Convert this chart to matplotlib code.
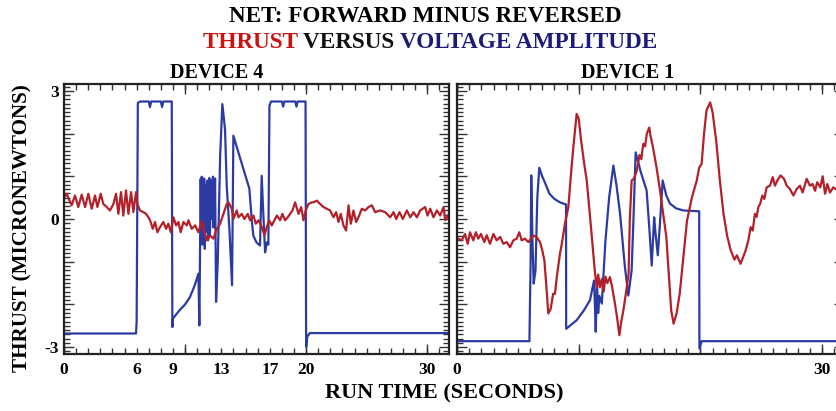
import matplotlib
matplotlib.use("Agg")
from matplotlib import pyplot as plt
from matplotlib.ticker import MultipleLocator

plt.rcParams['font.family'] = ['Liberation Serif', 'DejaVu Serif']
plt.rcParams['font.weight'] = 'bold'

# Device 4 : thrust (red)
t4_thrust = [0.03, 0.22, 0.63, 0.91, 1.18, 1.46, 1.74, 2.01, 2.29, 2.56, 2.76, 3.03, 3.25, 3.53,
             3.80, 4.08, 4.30, 4.49, 4.71, 4.90, 5.12, 5.32, 5.54, 5.73, 5.95, 6.06, 6.28, 6.56,
             6.78, 6.97, 7.11, 7.33, 7.52, 7.71, 7.93, 8.21, 8.43, 8.62, 8.82, 9.04, 9.26, 9.45,
             9.64, 9.86, 10.14, 10.28, 10.55, 10.83, 11.1, 11.38, 11.6, 11.79, 12.07, 12.34,
             12.62, 12.89, 13.17, 13.44, 13.58, 13.86, 13.99, 14.27, 14.41, 14.68, 14.9, 15.18,
             15.37, 15.65, 15.84, 16.06, 16.34, 16.56, 16.75, 16.94, 17.16, 17.38, 17.58, 17.85,
             18.04, 18.26, 18.48, 18.68, 18.87, 19.09, 19.37, 19.59, 19.78, 19.97, 20.19, 20.47,
             20.61, 20.88, 21.16, 21.43, 21.7, 21.98, 22.26, 22.48, 22.67, 22.86, 23.08, 23.3,
             23.5, 23.69, 23.91, 24.13, 24.32, 24.6, 24.88, 25.15, 25.43, 25.7, 26.12, 26.53,
             26.94, 27.22, 27.44, 27.71, 27.99, 28.32, 28.6, 28.87, 29.15, 29.42, 29.83, 30.03,
             30.25, 30.52, 30.8, 31.07, 31.35, 31.49, 31.8]
v4_thrust = [0.51, 0.59, 0.32, 0.55, 0.28, 0.57, 0.28, 0.59, 0.24, 0.55, 0.28, 0.59, 0.35, 0.28,
             0.20, 0.35, 0.59, 0.12, 0.63, 0.08, 0.67, 0.12, 0.63, 0.16, 0.63, 0.35, 0.20, 0.16,
             0.12, 0.04, -0.03, -0.23, -0.07, -0.31, -0.19, -0.07, -0.23, -0.11, -0.31, 0.04, -0.15, -0.07,
             -0.31, -0.07, -0.15, -0.03, -0.23, -0.15, -0.31, -0.05, -0.30, -0.50, -0.39, -0.46,
             -0.23, -0.11, 0.12, 0.35, 0.39, 0.24, 0.00, 0.20, 0.04, 0.12, 0.00, 0.12,
             -0.03, 0.08, -0.11, -0.03, -0.19, -0.38, -0.19, -0.03, -0.15, -0.03, 0.08, -0.03,
             0.12, -0.03, 0.04, 0.12, 0.20, 0.39, 0.12, 0.28, -0.03, 0.20, 0.35, 0.39,
             0.39, 0.43, 0.35, 0.28, 0.24, 0.20, 0.04, 0.16, -0.07, 0.12, -0.15, -0.27,
             0.32, -0.11, 0.20, -0.07, 0.04, 0.24, 0.20, 0.28, 0.32, 0.16, 0.20, 0.16,
             0.04, 0.16, 0.00, 0.16, 0.00, 0.20, 0.04, 0.16, 0.04, 0.20, 0.28, 0.08,
             0.24, 0.04, 0.20, 0.08, 0.28, -0.03, 0.12]

# Device 4 : voltage amplitude (blue)
t4_volt = [0, 5.95, 6.0, 6.1, 6.3, 7.0, 7.1, 7.2, 8.0, 8.1, 8.2, 8.9, 8.95, 9.0, 9.5, 10.0,
           10.4, 10.8, 11.1, 11.18, 11.29, 11.33, 11.38, 11.42, 11.48, 11.52, 11.58, 11.63,
           11.7, 11.75, 11.85, 11.9, 12.0, 12.05, 12.15, 12.2, 12.3, 12.35, 12.48, 12.56,
           12.7, 12.9, 13.08, 13.3, 13.44, 13.66, 13.88, 13.99, 15.31, 15.5, 15.64, 15.9,
           16.19, 16.33, 16.45, 16.61, 16.75, 16.88, 16.97, 17.1, 18.0, 18.1, 18.2, 19.1,
           19.2, 19.3, 19.95, 20.0, 20.1, 20.3, 31.8]
v4_volt = [-2.68, -2.68, -2.4, 2.72, 2.75, 2.75, 2.62, 2.75, 2.75, 2.62, 2.75, 2.75, -2.53, -2.33,
           -2.15, -2.0, -1.83, -1.55, -1.28, -2.49, 0.94, -0.2, 0.99, -0.6, 0.85, -0.1, 0.95, -0.7,
           0.8, -0.3, 0.9, -0.5, 0.96, -0.4, 0.9, 0.0, 0.99, -0.2, 0.95, -1.94,
           -1.0, 1.5, 2.69, 2.1, 0.78, -0.23, -1.55, 1.95, 0.71, 0.0, -0.39, -0.55,
           -0.62, 1.01, 0.2, -0.78, -0.55, -0.6, 2.65, 2.75, 2.75, 2.63, 2.75, 2.75,
           2.63, 2.75, 2.75, -3.0, -2.75, -2.67, -2.67]

# Device 1 : thrust (red)
t1_thrust = [0.0, 0.38, 0.66, 0.88, 1.07, 1.34, 1.55, 1.75, 1.97, 2.25, 2.44, 2.71, 2.99, 3.26,
             3.54, 3.81, 4.08, 4.36, 4.63, 4.9, 5.12, 5.31, 5.58, 5.86, 6.27, 6.54, 6.82, 7.01,
             7.18, 7.35, 7.5, 7.7, 7.9, 8.05, 8.2, 8.46, 8.6, 8.87, 9.15, 9.35, 9.56, 9.83,
             10.0, 10.2, 10.45, 10.66, 10.95, 11.2, 11.35, 11.5, 11.6, 11.75, 11.9, 12.05, 12.2,
             12.35, 12.57, 12.75, 12.98, 13.15, 13.34, 13.5, 13.67, 13.9, 14.1, 14.2, 14.35,
             14.55, 14.77, 15.0, 15.15, 15.3, 15.45, 15.6, 15.8, 15.9, 16.1, 16.4, 16.68, 16.95,
             17.2, 17.4, 17.6, 17.8, 18.05, 18.3, 18.6, 18.9, 19.3, 19.7, 19.9, 20.1, 20.3, 20.5,
             20.8, 21.0, 21.3, 21.6, 21.9, 22.2, 22.5, 22.8, 23.0, 23.3, 23.5, 23.7, 23.94, 24.13,
             24.3, 24.48, 24.62, 24.76, 24.9, 25.09, 25.25, 25.44, 25.72, 25.94, 26.13, 26.32,
             26.59, 26.87, 27.09, 27.36, 27.64, 27.91, 28.18, 28.4, 28.73, 29.0, 29.22, 29.42,
             29.6, 29.85, 30.05, 30.24, 30.43, 30.65, 30.92, 31.14, 31.8]
v1_thrust = [-0.45, -0.50, -0.35, -0.58, -0.31, -0.50, -0.31, -0.46, -0.35, -0.54, -0.38, -0.58,
             -0.35, -0.50, -0.42, -0.58, -0.54, -0.66, -0.50, -0.46, -0.31, -0.50, -0.46, -0.54,
             -0.39, -0.42, -0.54, -0.74, -0.97, -1.6, -2.21, -2.1, -1.75, -1.75, -1.36, -0.81,
             -0.6, -0.11, 0.28, 1.0, 1.68, 2.46, 2.35, 1.83, 1.3, 0.9, 0.0, -0.81, -1.3, -1.6,
             -1.3, -1.6, -1.4, -1.7, -1.35, -1.5, -1.36, -1.6, -1.98, -2.3, -2.72, -2.4, -2.14,
             -1.7, -1.28, 0.0, 0.9, 0.95, 1.13, 1.5, 1.4, 1.76, 1.7, 2.0, 2.14, 1.95, 1.68, 1.2,
             0.67, 0.1, -0.42, -1.3, -2.14, -2.45, -2.2, -1.75, -0.9, -0.04, 0.5, 0.9, 1.2, 1.29,
             2.0, 2.54, 2.73, 2.5, 1.83, 0.9, 0.12, -0.4, -0.74, -0.95, -0.85, -1.05, -0.9, -0.75,
             -0.50, -0.19, -0.27, 0.12, 0.05, 0.28, 0.35, 0.55, 0.47, 0.74, 0.78, 0.98, 0.78,
             0.90, 1.02, 0.94, 0.78, 0.70, 0.55, 0.70, 0.78, 0.62, 0.94, 0.78, 0.82, 0.66, 0.86,
             0.74, 1.0, 0.59, 0.82, 0.62, 0.74, 0.70, 0.78]

# Device 1 : voltage amplitude (blue)
t1_volt = [0, 5.95, 6.05, 6.1, 6.2, 6.3, 6.45, 6.6, 6.76, 7.0, 7.3, 7.6, 8.0, 8.46, 8.96, 8.97,
           9.4, 9.83, 10.4, 10.93, 11.26, 11.33, 11.4, 11.5, 11.6, 11.7, 11.9, 12.2, 12.5, 12.85,
           13.1, 13.4, 13.8, 14.08, 14.35, 14.5, 14.68, 15.1, 15.58, 15.8, 16.0, 16.2, 16.3,
           16.5, 16.7, 16.9, 17.2, 17.5, 18.0, 18.6, 19.9, 19.92, 20.1, 31.8]
v1_volt = [-2.86, -2.86, -1.0, 1.02, -0.5, -1.51, -1.2, 0.5, 1.2, 1.0, 0.8, 0.59, 0.47, 0.39,
           0.34, -2.57, -2.47, -2.37, -2.15, -1.9, -1.44, -2.0, -2.64, -1.5, -2.2, -1.8, -1.98,
           -0.5, 0.5, 1.25, 0.8, 0.12, -1.13, -1.79, -1.2, 0.0, 1.56, 1.1, 0.67, -0.2, -1.09,
           0.04, -0.3, -0.85, 0.0, 0.9, 0.55, 0.36, 0.25, 0.2, 0.18, -3.03, -2.86, -2.86]

x4_ticks = [0, 6, 9, 13, 17, 20, 30]
x1_ticks = [0, 30]

RED = '#b3202a'
BLUE = '#2c3ba3'
W, H = 836, 411

fig = plt.figure(figsize=(W / 100, H / 100), dpi=100)
ax4 = fig.add_axes([64 / W, 1 - 354 / H, 385 / W, 270 / H])
ax1 = fig.add_axes([457 / W, 1 - 354 / H, 387 / W, 270 / H])


def style(ax, labels, ylabels):
    ax.set_xlim(0, 31.8)
    ax.set_ylim(-3.16, 3.16)
    ax.xaxis.set_major_locator(MultipleLocator(10))
    ax.xaxis.remove_overlapping_locs = False
    ax.set_xticks(range(0, 32), minor=True)
    ax.set_xticklabels([str(i) if i in labels else '' for i in range(0, 32)], minor=True)
    ax.set_xticklabels([])
    ax.yaxis.set_major_locator(MultipleLocator(1))
    ax.yaxis.set_minor_locator(MultipleLocator(0.1))
    if ylabels:
        ax.set_yticklabels(['-3' if round(v) == -3 else '0' if round(v) == 0 else '3' if round(v) == 3 else ''
                            for v in ax.get_yticks()])
    else:
        ax.set_yticklabels([])
    ax.tick_params(which='both', direction='in', top=True, right=True, width=1, color='#333333',
                   labelsize=12.5)
    ax.tick_params(which='major', length=7)
    ax.tick_params(which='minor', length=4)
    ax.tick_params(axis='x', which='minor', pad=6)
    for s in ax.spines.values():
        s.set_linewidth(1.6)
        s.set_color('#222222')


ax4.plot(t4_volt, v4_volt, color=BLUE, lw=1.6)
ax4.plot(t4_thrust, v4_thrust, color=RED, lw=1.6)
style(ax4, x4_ticks, True)

ax1.plot(t1_volt, v1_volt, color=BLUE, lw=1.6)
ax1.plot(t1_thrust, v1_thrust, color=RED, lw=1.6)
style(ax1, x1_ticks, False)

fig.text(425 / W, 1 - 17 / H, 'NET: FORWARD MINUS REVERSED', ha='center', va='center',
         fontsize=16.7, fontweight='bold')

# coloured second title line, pieces placed side by side
parts = [('THRUST ', '#cc1111'), ('VERSUS ', '#111111'), ('VOLTAGE AMPLITUDE', '#1c1c78')]
r = fig.canvas.get_renderer()
pieces = [fig.text(0, 1 - 43 / H, s, color=c, ha='left', va='center', fontsize=16.7,
                   fontweight='bold') for s, c in parts]
widths = [p.get_window_extent(r).width for p in pieces]
x = 430 - sum(widths) / 2
for p, w in zip(pieces, widths):
    p.set_x(x / W)
    x += w

fig.text(217 / W, 1 - 73 / H, 'DEVICE 4', ha='center', va='center', fontsize=14.5, fontweight='bold')
fig.text(628 / W, 1 - 73 / H, 'DEVICE 1', ha='center', va='center', fontsize=14.5, fontweight='bold')
fig.text(22 / W, 1 - 228 / H, 'THRUST (MICRONEWTONS)', rotation=90, ha='center', va='center',
         fontsize=15.2, fontweight='bold')
fig.text(444 / W, 1 - 393 / H, 'RUN TIME (SECONDS)', ha='center', va='center',
         fontsize=16, fontweight='bold')

fig.savefig('out.png', dpi=100)
